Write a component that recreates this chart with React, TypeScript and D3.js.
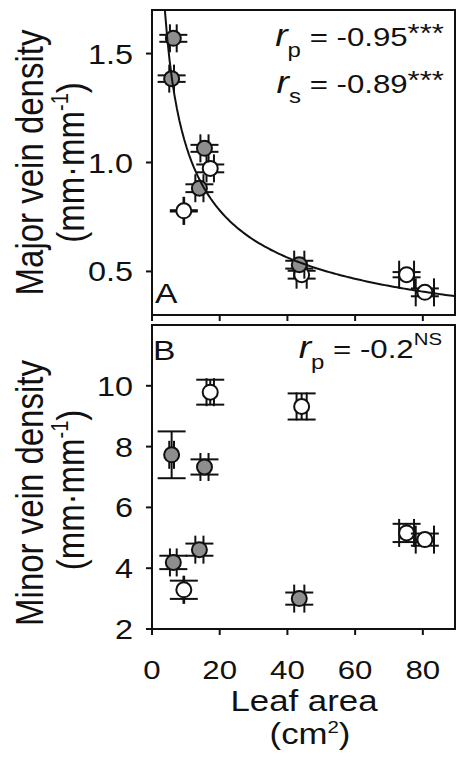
import React from "react";
import * as d3 from "d3";

// Leaf-level measurements (filled = one group, open = the other)
const leafArea = [6.3, 5.8, 15.5, 14.0, 43.5, 17.2, 9.4, 44.2, 75.2, 80.6];
const leafAreaErr = [1.0, 0.7, 1.2, 1.2, 1.5, 1.1, 0.1, 1.5, 2.2, 2.7];
const filled = [true, true, true, true, true, false, false, false, false, false];
const majorVein = [1.57, 1.385, 1.065, 0.882, 0.531, 0.973, 0.778, 0.485, 0.485, 0.404];
const majorVeinErr = [0.016, 0.015, 0.016, 0.018, 0.018, 0.018, 0.003, 0.018, 0.012, 0.018];
const minorVein = [4.19, 7.73, 7.33, 4.61, 3.0, 9.79, 3.29, 9.32, 5.16, 4.94];
const minorVeinErr = [0.22, 0.77, 0.25, 0.2, 0.2, 0.41, 0.3, 0.43, 0.3, 0.2];

const xTicks = [0, 20, 40, 60, 80];
const majorTicks = [0.5, 1.0, 1.5];
const minorTicks = [2, 4, 6, 8, 10];

// Power-law fit for major vein density vs leaf area
const fitCoef = 3.18;
const fitExp = -0.469;

const FONT = "'Liberation Sans', Arial, Helvetica, sans-serif";
const SX = 1.2; // horizontal text stretch
const INK = "#111";
const GRAY = "#8e8e8e";
const CAP = 14;
const R = 7.5;

const left = 152;
const right = 455;
const aTop = 10;
const aBot = 315;
const bTop = 325;
const bBot = 629;

const x = d3.scaleLinear().domain([0, 89.5]).range([left, right]);
const yA = d3.scaleLinear().domain([0.3, 1.7]).range([aBot, aTop]);
const yB = d3.scaleLinear().domain([2, 12]).range([bBot, bTop]);

function Glyph({ i, y, vals, errs }: { i: number; y: d3.ScaleLinear<number, number>; vals: number[]; errs: number[] }) {
  const cx = x(leafArea[i]);
  const cy = y(vals[i]);
  const x0 = x(leafArea[i] - leafAreaErr[i]);
  const x1 = x(leafArea[i] + leafAreaErr[i]);
  const y0 = y(vals[i] - errs[i]);
  const y1 = y(vals[i] + errs[i]);
  return (
    <g stroke={INK} strokeWidth={2}>
      <line x1={x0} x2={x1} y1={cy} y2={cy} />
      <line x1={x0} x2={x0} y1={cy - CAP} y2={cy + CAP} />
      <line x1={x1} x2={x1} y1={cy - CAP} y2={cy + CAP} />
      <line x1={cx} x2={cx} y1={y0} y2={y1} />
      <line x1={cx - CAP} x2={cx + CAP} y1={y0} y2={y0} />
      <line x1={cx - CAP} x2={cx + CAP} y1={y1} y2={y1} />
      <circle cx={cx} cy={cy} r={R} fill={filled[i] ? GRAY : "#fff"} />
    </g>
  );
}

function Points({ y, vals, errs }: { y: d3.ScaleLinear<number, number>; vals: number[]; errs: number[] }) {
  // open symbols underneath, filled symbols on top
  const order = d3.range(leafArea.length).sort((a, b) => Number(filled[a]) - Number(filled[b]));
  return (
    <g>
      {order.map((i) => (
        <Glyph key={i} i={i} y={y} vals={vals} errs={errs} />
      ))}
    </g>
  );
}

function Txt({ x: tx, y: ty, rot, anchor = "middle", size, children }: any) {
  const tr = `translate(${tx},${ty}) scale(${SX},1)${rot ? " rotate(-90)" : ""}`;
  return (
    <text transform={tr} textAnchor={anchor} fontSize={size} fontFamily={FONT} fill={INK}>
      {children}
    </text>
  );
}

function Frame({ top, bot, y, ticks, fmt }: any) {
  return (
    <g>
      <rect x={left} y={top} width={right - left} height={bot - top} fill="none" stroke={INK} strokeWidth={2} />
      {xTicks.map((t) => (
        <line key={"x" + t} x1={x(t)} x2={x(t)} y1={bot} y2={bot + 6} stroke={INK} strokeWidth={2} />
      ))}
      {ticks.map((t: number) => (
        <g key={"y" + t}>
          <line x1={left - 6} x2={left} y1={y(t)} y2={y(t)} stroke={INK} strokeWidth={2} />
          <Txt x={133} y={y(t) + 10} anchor="end" size={27}>
            {fmt(t)}
          </Txt>
        </g>
      ))}
    </g>
  );
}

export default function App() {
  const fitLine = d3
    .line<number>()
    .x((v) => x(v))
    .y((v) => yA(fitCoef * Math.pow(v, fitExp)));
  const xStart = Math.pow(1.7 / fitCoef, 1 / fitExp);
  const fitXs = d3.range(0, 121).map((k) => xStart + ((89.5 - xStart) * k) / 120);

  return (
    <svg width={462} height={776} style={{ position: "absolute", left: 0, top: 0, background: "#fff" }}>
      <rect x={0} y={0} width={462} height={776} fill="#fff" />

      {/* Panel A */}
      <Points y={yA} vals={majorVein} errs={majorVeinErr} />
      <path d={fitLine(fitXs) || ""} fill="none" stroke={INK} strokeWidth={2} />
      <Frame top={aTop} bot={aBot} y={yA} ticks={majorTicks} fmt={(t: number) => t.toFixed(1)} />
      <Txt x={155} y={303} anchor="start" size={28}>A</Txt>
      <Txt x={444} y={46} anchor="end" size={26}>
        <tspan fontStyle="italic" fontSize={31}>r</tspan>
        <tspan fontSize={20} dy={11}>p</tspan>
        <tspan dy={-11}> = -0.95</tspan>
        <tspan dy={-4}>***</tspan>
      </Txt>
      <Txt x={444} y={93} anchor="end" size={26}>
        <tspan fontStyle="italic" fontSize={31}>r</tspan>
        <tspan fontSize={20} dy={10}>s</tspan>
        <tspan dy={-10}> = -0.89</tspan>
        <tspan dy={-4}>***</tspan>
      </Txt>
      <Txt x={43} y={162.5} rot size={33}>Major vein density</Txt>
      <Txt x={84} y={162.5} rot size={33}>
        (mm·mm<tspan fontSize={20} dy={-13}>-1</tspan>
        <tspan dy={13}>)</tspan>
      </Txt>

      {/* Panel B */}
      <Points y={yB} vals={minorVein} errs={minorVeinErr} />
      <Frame top={bTop} bot={bBot} y={yB} ticks={minorTicks} fmt={(t: number) => String(t)} />
      <Txt x={153} y={360} anchor="start" size={28}>B</Txt>
      <Txt x={442} y={358} anchor="end" size={26}>
        <tspan fontStyle="italic" fontSize={31}>r</tspan>
        <tspan fontSize={20} dy={11}>p</tspan>
        <tspan dy={-11}> = -0.2</tspan>
        <tspan fontSize={17} dy={-13}>NS</tspan>
      </Txt>
      <Txt x={43} y={493} rot size={33}>Minor vein density</Txt>
      <Txt x={84} y={490} rot size={33}>
        (mm·mm<tspan fontSize={20} dy={-13}>-1</tspan>
        <tspan dy={13}>)</tspan>
      </Txt>

      {/* Shared x axis labels */}
      {xTicks.map((t) => (
        <Txt key={t} x={x(t)} y={679} size={26}>
          {String(t)}
        </Txt>
      ))}
      <Txt x={304} y={711} size={29}>Leaf area</Txt>
      <Txt x={310} y={744} size={29}>
        (cm<tspan fontSize={17} dy={-11}>2</tspan>
        <tspan dy={11}>)</tspan>
      </Txt>
    </svg>
  );
}
